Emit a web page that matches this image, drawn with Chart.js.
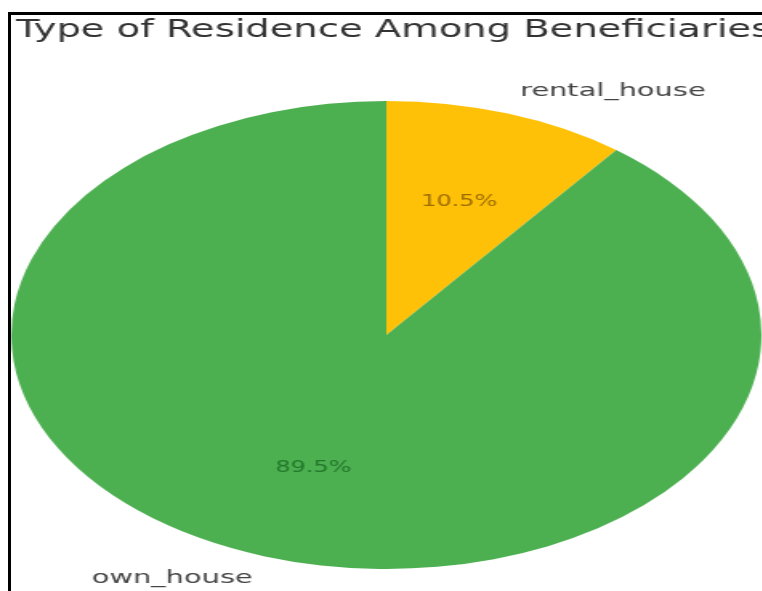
<!DOCTYPE html>
<html>
<head>
<meta charset="utf-8">
<script src="https://cdn.jsdelivr.net/npm/chart.js@4.4.1/dist/chart.umd.min.js"></script>
<style>
  body { margin: 0; background: #fff; overflow: hidden; }
  #wrap { position: absolute; left: 0; top: 0; width: 762px; height: 591px; overflow: hidden; }
  #pieChart { position: absolute; left: 0; top: 0; transform-origin: 0 0; transform: scaleX(1.603); }
  #frame { position: absolute; left: 8px; top: 12px; width: 800px; height: 600px;
           border-left: 3px solid #000; border-top: 3px solid #000; pointer-events: none; }
</style>
</head>
<body>
<div id="wrap">
  <canvas id="pieChart" width="476" height="591"></canvas>
  <div id="frame"></div>
</div>
<script>
var chartTitle = "Type of Residence Among Beneficiaries";
var labels = ["rental_house", "own_house"];
var values = [10.5, 89.5];
var colors = ["#ffc107", "#4caf50"];
var pctColors = ["#9c6d00", "#23782b"];

// matplotlib style text: labels outside at 1.1r, percents inside at 0.6r
var pieText = {
  id: "pieText",
  afterDraw: function (chart) {
    var ctx = chart.ctx;
    ctx.save();
    ctx.fillStyle = "#333";
    ctx.font = "24px 'DejaVu Sans'";
    ctx.textAlign = "left";
    ctx.textBaseline = "middle";
    ctx.fillText(chartTitle, 10, 31);

    var meta = chart.getDatasetMeta(0);
    var total = values.reduce(function (a, b) { return a + b; }, 0);
    meta.data.forEach(function (arc, i) {
      var p = arc.getProps(["x", "y", "startAngle", "endAngle", "outerRadius"], true);
      var mid = (p.startAngle + p.endAngle) / 2;
      var cx = Math.cos(mid), cy = Math.sin(mid);

      ctx.font = "18px 'DejaVu Sans'";
      ctx.fillStyle = "#444";
      ctx.textAlign = cx >= 0 ? "left" : "right";
      ctx.fillText(labels[i], p.x + cx * p.outerRadius * 1.1, p.y + cy * p.outerRadius * 1.1);

      ctx.font = "15px 'DejaVu Sans'";
      ctx.fillStyle = pctColors[i];
      ctx.textAlign = "center";
      var pct = (values[i] / total * 100).toFixed(1) + "%";
      ctx.fillText(pct, p.x + cx * p.outerRadius * 0.6, p.y + cy * p.outerRadius * 0.6);
    });
    ctx.restore();
  }
};

var ctx = document.getElementById("pieChart").getContext("2d");
var chart = new Chart(ctx, {
  type: "pie",
  data: {
    labels: labels,
    datasets: [
      {
        data: values,
        backgroundColor: colors,
        borderWidth: 0,
      },
    ],
  },
  options: {
    responsive: false,
    animation: false,
    layout: { padding: { top: 101, bottom: 22, left: 7, right: 1 } },
    plugins: {
      legend: { display: false },
      title: { display: false },
      tooltip: { enabled: false },
    },
  },
  plugins: [pieText],
});
</script>
</body>
</html>
